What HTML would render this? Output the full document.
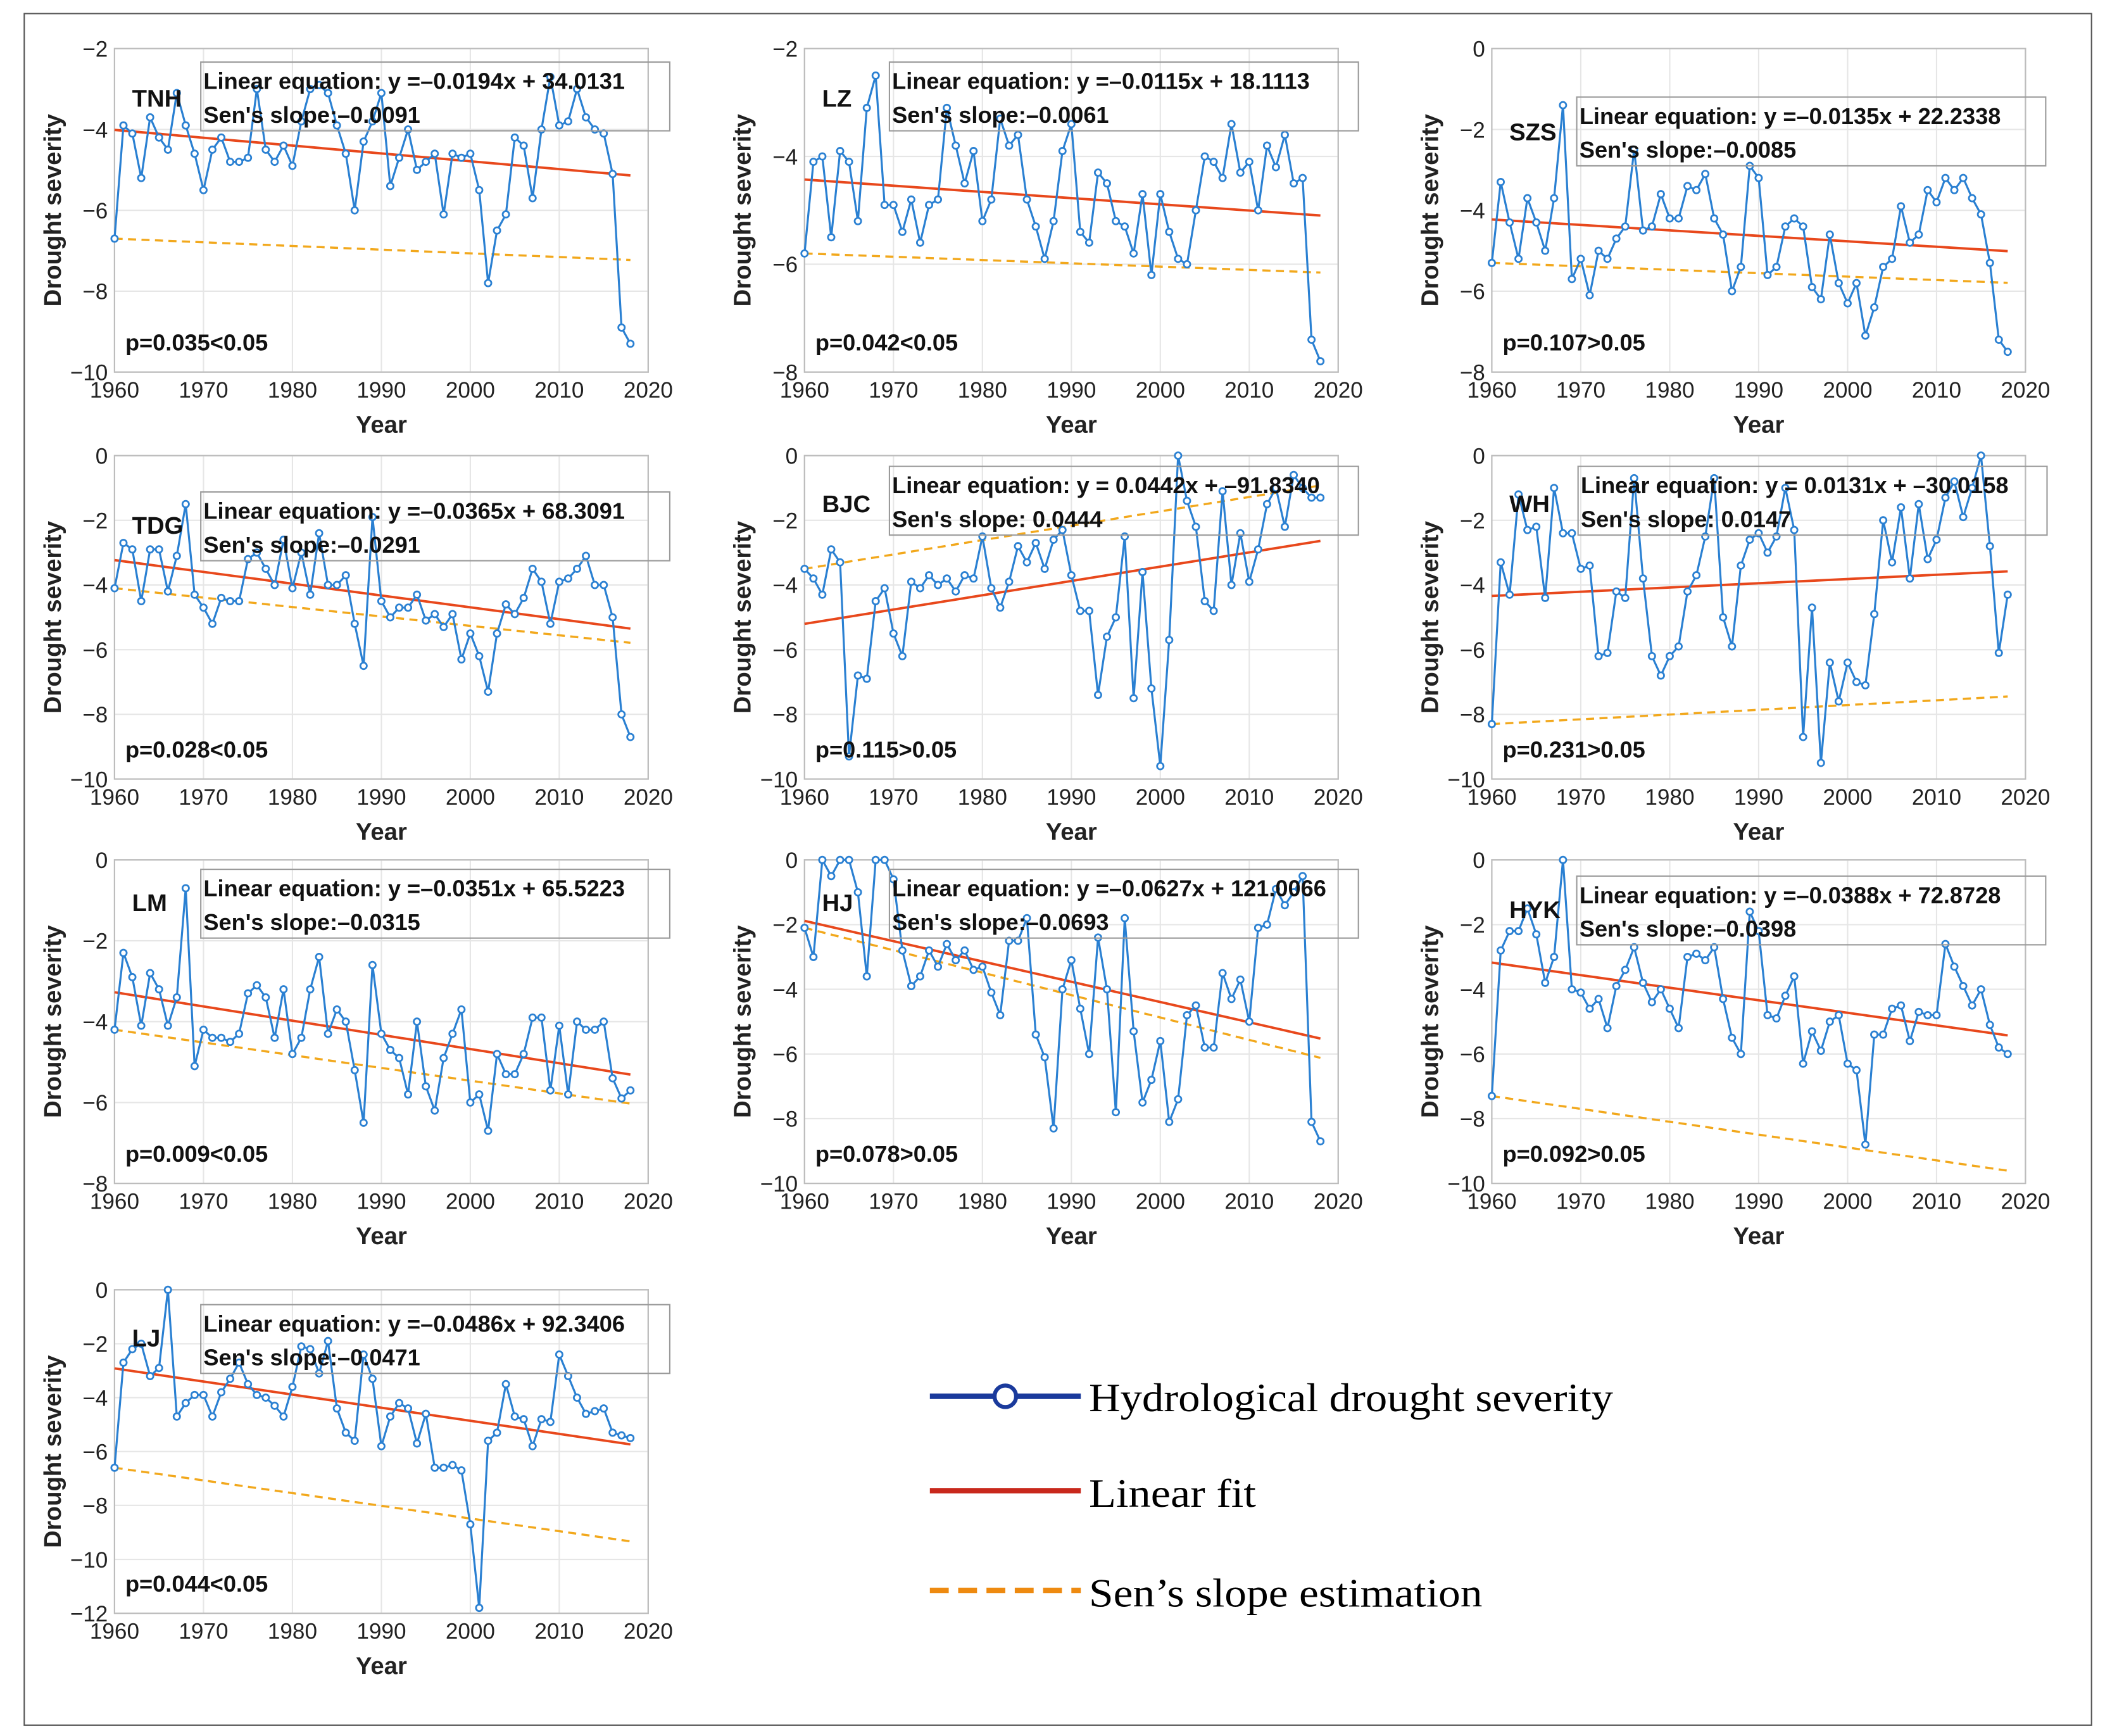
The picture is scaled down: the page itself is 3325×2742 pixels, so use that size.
<!DOCTYPE html>
<html><head><meta charset="utf-8">
<style>
html,body{margin:0;padding:0;background:#fff;}
svg{display:block;}
text{font-family:"Liberation Sans",Arial,sans-serif;}
</style></head>
<body>
<svg id="chart" xmlns="http://www.w3.org/2000/svg" width="3325" height="2742" viewBox="0 0 1562 1288">
<rect x="18" y="10" width="1534" height="1270" fill="#fff" stroke="#555" stroke-width="1"/>
<g>
<line x1="690" y1="1036" x2="802" y2="1036" stroke="#1a3a9c" stroke-width="4"/>
<circle cx="746" cy="1036" r="8" fill="#fff" stroke="#1a3a9c" stroke-width="3"/>
<text x="808" y="1047" style="font-family:'Liberation Serif',serif" font-size="30" textLength="389" lengthAdjust="spacingAndGlyphs">Hydrological drought severity</text>
<line x1="690" y1="1106" x2="802" y2="1106" stroke="#c8281c" stroke-width="4"/>
<text x="808" y="1118" style="font-family:'Liberation Serif',serif" font-size="30" textLength="124" lengthAdjust="spacingAndGlyphs">Linear fit</text>
<line x1="690" y1="1180" x2="802" y2="1180" stroke="#ee8a10" stroke-width="4" stroke-dasharray="14,7"/>
<text x="808" y="1192" style="font-family:'Liberation Serif',serif" font-size="30" textLength="292" lengthAdjust="spacingAndGlyphs">Sen’s slope estimation</text>
</g>
</svg>
<script>
const names = ["TNH","LZ","SZS","TDG","BJC","WH","LM","HJ","HYK","LJ"];
const slopes = [-0.0194,-0.0115,-0.0135,-0.0365,0.0442,0.0131,-0.0351,-0.0627,-0.0388,-0.0486];
const intercepts = [34.0131,18.1113,22.2338,68.3091,-91.8340,-30.0158,65.5223,121.0066,72.8728,92.3406];
const eqLabels = ["y =\u20130.0194x + 34.0131","y =\u20130.0115x + 18.1113","y =\u20130.0135x + 22.2338","y =\u20130.0365x + 68.3091","y = 0.0442x + \u201391.8340","y = 0.0131x + \u201330.0158","y =\u20130.0351x + 65.5223","y =\u20130.0627x + 121.0066","y =\u20130.0388x + 72.8728","y =\u20130.0486x + 92.3406"];
const senSlopes = [-0.0091,-0.0061,-0.0085,-0.0291,0.0444,0.0147,-0.0315,-0.0693,-0.0398,-0.0471];
const senLabels = ["Sen's slope:\u20130.0091","Sen's slope:\u20130.0061","Sen's slope:\u20130.0085","Sen's slope:\u20130.0291","Sen's slope: 0.0444","Sen's slope: 0.0147","Sen's slope:\u20130.0315","Sen's slope:\u20130.0693","Sen's slope:\u20130.0398","Sen's slope:\u20130.0471"];
const pLabels = ["p=0.035<0.05","p=0.042<0.05","p=0.107>0.05","p=0.028<0.05","p=0.115>0.05","p=0.231>0.05","p=0.009<0.05","p=0.078>0.05","p=0.092>0.05","p=0.044<0.05"];
const yMins = [-10,-8,-8,-10,-10,-10,-8,-10,-10,-12];
const yMaxs = [-2,-2,0,0,0,0,0,0,0,0];
const xTicks = [1960,1970,1980,1990,2000,2010,2020];
const sTNH = [-6.7,-3.9,-4.1,-5.2,-3.7,-4.2,-4.5,-3.1,-3.9,-4.6,-5.5,-4.5,-4.2,-4.8,-4.8,-4.7,-3.0,-4.5,-4.8,-4.4,-4.9,-3.8,-3.0,-2.9,-3.1,-3.9,-4.6,-6.0,-4.3,-3.8,-3.1,-5.4,-4.7,-4.0,-5.0,-4.8,-4.6,-6.1,-4.6,-4.7,-4.6,-5.5,-7.8,-6.5,-6.1,-4.2,-4.4,-5.7,-4.0,-2.7,-3.9,-3.8,-3.0,-3.7,-4.0,-4.1,-5.1,-8.9,-9.3];
const sLZ = [-5.8,-4.1,-4.0,-5.5,-3.9,-4.1,-5.2,-3.1,-2.5,-4.9,-4.9,-5.4,-4.8,-5.6,-4.9,-4.8,-3.1,-3.8,-4.5,-3.9,-5.2,-4.8,-3.3,-3.8,-3.6,-4.8,-5.3,-5.9,-5.2,-3.9,-3.4,-5.4,-5.6,-4.3,-4.5,-5.2,-5.3,-5.8,-4.7,-6.2,-4.7,-5.4,-5.9,-6.0,-5.0,-4.0,-4.1,-4.4,-3.4,-4.3,-4.1,-5.0,-3.8,-4.2,-3.6,-4.5,-4.4,-7.4,-7.8];
const sSZS = [-5.3,-3.3,-4.3,-5.2,-3.7,-4.3,-5.0,-3.7,-1.4,-5.7,-5.2,-6.1,-5.0,-5.2,-4.7,-4.4,-2.5,-4.5,-4.4,-3.6,-4.2,-4.2,-3.4,-3.5,-3.1,-4.2,-4.6,-6.0,-5.4,-2.9,-3.2,-5.6,-5.4,-4.4,-4.2,-4.4,-5.9,-6.2,-4.6,-5.8,-6.3,-5.8,-7.1,-6.4,-5.4,-5.2,-3.9,-4.8,-4.6,-3.5,-3.8,-3.2,-3.5,-3.2,-3.7,-4.1,-5.3,-7.2,-7.5];
const sTDG = [-4.1,-2.7,-2.9,-4.5,-2.9,-2.9,-4.2,-3.1,-1.5,-4.3,-4.7,-5.2,-4.4,-4.5,-4.5,-3.2,-3.0,-3.5,-4.0,-2.6,-4.1,-3.0,-4.3,-2.4,-4.0,-4.0,-3.7,-5.2,-6.5,-1.9,-4.5,-5.0,-4.7,-4.7,-4.3,-5.1,-4.9,-5.3,-4.9,-6.3,-5.5,-6.2,-7.3,-5.5,-4.6,-4.9,-4.4,-3.5,-3.9,-5.2,-3.9,-3.8,-3.5,-3.1,-4.0,-4.0,-5.0,-8.0,-8.7];
const sBJC = [-3.5,-3.8,-4.3,-2.9,-3.3,-9.3,-6.8,-6.9,-4.5,-4.1,-5.5,-6.2,-3.9,-4.1,-3.7,-4.0,-3.8,-4.2,-3.7,-3.8,-2.5,-4.1,-4.7,-3.9,-2.8,-3.3,-2.7,-3.5,-2.6,-2.3,-3.7,-4.8,-4.8,-7.4,-5.6,-5.0,-2.5,-7.5,-3.6,-7.2,-9.6,-5.7,0.0,-1.4,-2.2,-4.5,-4.8,-1.1,-4.0,-2.4,-3.9,-2.9,-1.5,-1.0,-2.2,-0.6,-1.0,-1.3,-1.3];
const sWH = [-8.3,-3.3,-4.3,-1.2,-2.3,-2.2,-4.4,-1.0,-2.4,-2.4,-3.5,-3.4,-6.2,-6.1,-4.2,-4.4,-0.7,-3.8,-6.2,-6.8,-6.2,-5.9,-4.2,-3.7,-2.5,-0.7,-5.0,-5.9,-3.4,-2.6,-2.4,-3.0,-2.5,-1.0,-2.3,-8.7,-4.7,-9.5,-6.4,-7.6,-6.4,-7.0,-7.1,-4.9,-2.0,-3.3,-1.6,-3.8,-1.5,-3.2,-2.6,-1.3,-0.8,-1.9,-1.0,0.0,-2.8,-6.1,-4.3];
const sLM = [-4.2,-2.3,-2.9,-4.1,-2.8,-3.2,-4.1,-3.4,-0.7,-5.1,-4.2,-4.4,-4.4,-4.5,-4.3,-3.3,-3.1,-3.4,-4.4,-3.2,-4.8,-4.4,-3.2,-2.4,-4.3,-3.7,-4.0,-5.2,-6.5,-2.6,-4.3,-4.7,-4.9,-5.8,-4.0,-5.6,-6.2,-4.9,-4.3,-3.7,-6.0,-5.8,-6.7,-4.8,-5.3,-5.3,-4.8,-3.9,-3.9,-5.7,-4.1,-5.8,-4.0,-4.2,-4.2,-4.0,-5.4,-5.9,-5.7];
const sHJ = [-2.1,-3.0,0,-0.5,0,0,-1.0,-3.6,0,0,-0.6,-2.8,-3.9,-3.6,-2.8,-3.3,-2.6,-3.1,-2.8,-3.4,-3.3,-4.1,-4.8,-2.5,-2.5,-1.8,-5.4,-6.1,-8.3,-4.0,-3.1,-4.6,-6.0,-2.4,-4.0,-7.8,-1.8,-5.3,-7.5,-6.8,-5.6,-8.1,-7.4,-4.8,-4.5,-5.8,-5.8,-3.5,-4.3,-3.7,-5.0,-2.1,-2.0,-0.9,-1.4,-1.0,-0.5,-8.1,-8.7];
const sHYK = [-7.3,-2.8,-2.2,-2.2,-1.5,-2.3,-3.8,-3.0,0,-4.0,-4.1,-4.6,-4.3,-5.2,-3.9,-3.4,-2.7,-3.8,-4.4,-4.0,-4.6,-5.2,-3.0,-2.9,-3.1,-2.7,-4.3,-5.5,-6.0,-1.6,-2.2,-4.8,-4.9,-4.2,-3.6,-6.3,-5.3,-5.9,-5.0,-4.8,-6.3,-6.5,-8.8,-5.4,-5.4,-4.6,-4.5,-5.6,-4.7,-4.8,-4.8,-2.6,-3.3,-3.9,-4.5,-4.0,-5.1,-5.8,-6.0];
const sLJ = [-6.6,-2.7,-2.2,-2.0,-3.2,-2.9,0,-4.7,-4.2,-3.9,-3.9,-4.7,-3.8,-3.3,-2.7,-3.5,-3.9,-4.0,-4.3,-4.7,-3.6,-2.1,-2.2,-3.1,-1.9,-4.4,-5.3,-5.6,-2.4,-3.3,-5.8,-4.7,-4.2,-4.4,-5.7,-4.6,-6.6,-6.6,-6.5,-6.7,-8.7,-11.8,-5.6,-5.3,-3.5,-4.7,-4.8,-5.8,-4.8,-4.9,-2.4,-3.2,-4.0,-4.6,-4.5,-4.4,-5.3,-5.4,-5.5];
const series = [sTNH,sLZ,sSZS,sTDG,sBJC,sWH,sLM,sHJ,sHYK,sLJ];

const plotLefts=[85,597,1107,85,597,1107,85,597,1107,85];
const plotTops=[36,36,36,338,338,338,638,638,638,957];
const PW=396, PH=240;
const boxTops=[46,46,72,365,346,346,645,645,650,968];
const boxDx=[64,63,63,64,63,64,64,63,63,64];
const labelPos=[[98,79],[610,79],[1120,104],[98,396],[610,380],[1120,380],[98,676],[610,676],[1120,681],[98,999]];

const NS="http://www.w3.org/2000/svg";
const svg=document.getElementById('chart');
function mk(tag,attrs,parent){const e=document.createElementNS(NS,tag);for(const k in attrs)e.setAttribute(k,attrs[k]);parent.appendChild(e);return e;}

series.forEach((data,i)=>{
  const L=plotLefts[i],T=plotTops[i],ymin=yMins[i],ymax=yMaxs[i];
  const xs=v=>L+(v-1960)/60*PW;
  const ys=v=>T+(ymax-v)/(ymax-ymin)*PH;
  const g=mk('g',{},svg);
  
  
  const bg=mk('rect',{x:L,y:T,width:PW,height:PH,fill:'#fff',stroke:'#bdbdbd','stroke-width':1},g);
  
  
  xTicks.forEach(t=>{
    const gl=mk('line',{x1:xs(t),x2:xs(t),y1:T,y2:T+PH,stroke:'#e6e6e6','stroke-width':1},g);
    
    
    const tl=mk('text',{x:xs(t),y:T+PH+19,'font-size':16.5,'text-anchor':'middle',fill:'#222'},g);
    tl.textContent=t;
    
    
  });
  for(let v=ymin;v<=ymax;v+=2){
    const gl=mk('line',{x1:L,x2:L+PW,y1:ys(v),y2:ys(v),stroke:'#e6e6e6','stroke-width':1},g);
    
    
    const tl=mk('text',{x:L-5,y:ys(v)+6,'font-size':16.5,'text-anchor':'end',fill:'#222'},g);
    tl.textContent=(v<0?'\u2212'+(-v):v);
    
    
  }
  mk('rect',{x:L,y:T,width:PW,height:PH,fill:'none',stroke:'#bdbdbd','stroke-width':1},g);
  const xt=mk('text',{x:L+PW/2,y:T+PH+45,'font-size':18,'font-weight':'bold','text-anchor':'middle',fill:'#222'},g);
  xt.textContent='Year';
  
  
  const yt=mk('text',{x:0,y:0,'font-size':18,'font-weight':'bold','text-anchor':'middle',fill:'#222',transform:`translate(${L-40},${T+PH/2}) rotate(-90)`},g);
  yt.textContent='Drought severity';
  
  
  const y0=data[0];
  const sen=mk('line',{x1:xs(1960),y1:ys(y0),x2:xs(2018),y2:ys(y0+senSlopes[i]*58),stroke:'#f2a81c','stroke-width':1.6,'stroke-dasharray':'6,4'},g);
  
  
  const lf=mk('line',{x1:xs(1960),y1:ys(slopes[i]*1960+intercepts[i]),x2:xs(2018),y2:ys(slopes[i]*2018+intercepts[i]),stroke:'#e8481c','stroke-width':1.8},g);
  
  
  const pts=data.map((v,k)=>xs(1960+k).toFixed(2)+','+ys(v).toFixed(2)).join(' ');
  const pl=mk('polyline',{points:pts,fill:'none',stroke:'#2a80d2','stroke-width':1.5},g);
  
  
  data.forEach((v,k)=>{
    const c=mk('circle',{cx:xs(1960+k),cy:ys(v),r:2.4,fill:'#fff',stroke:'#2a80d2','stroke-width':1.3},g);
    
    
  });
  const bx=L+boxDx[i],by=boxTops[i];
  const box=mk('rect',{x:bx,y:by,width:348,height:51,fill:'none',stroke:'#9a9a9a','stroke-width':1},g);
  
  
  const eq=mk('text',{x:bx+2,y:by+20,'font-size':17,'font-weight':'bold',fill:'#111'},g);
  eq.textContent='Linear equation: '+eqLabels[i];
  
  
  const se=mk('text',{x:bx+2,y:by+45,'font-size':17,'font-weight':'bold',fill:'#111'},g);
  se.textContent=senLabels[i];
  
  
  const nl=mk('text',{x:labelPos[i][0],y:labelPos[i][1],'font-size':18,'font-weight':'bold',fill:'#111'},g);
  nl.textContent=names[i];
  
  
  const pv=mk('text',{x:L+8,y:T+PH-16,'font-size':17,'font-weight':'bold',fill:'#111'},g);
  pv.textContent=pLabels[i];
  
  
});
</script>
</body></html>
